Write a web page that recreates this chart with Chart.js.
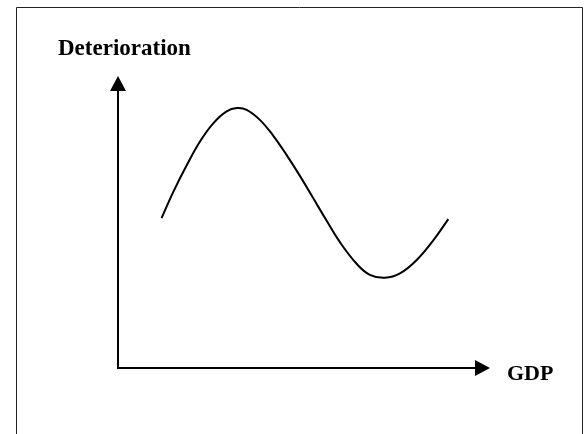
<!DOCTYPE html>
<html>
<head>
<meta charset="utf-8">
<script src="https://cdn.jsdelivr.net/npm/chart.js@4/dist/chart.umd.min.js"></script>
<style>
  html, body { margin: 0; padding: 0; background: #fff; }
  canvas { display: block; }
</style>
</head>
<body>
<canvas id="myChart" width="587" height="434"></canvas>
<script>
// curve (arbitrary units, 0-100 on both axes)
var gdp = [11.7, 14.9, 18.5, 22.0, 25.6, 29.2, 32.0, 34.6, 38.2, 41.7, 45.3, 48.9,
  52.5, 56.1, 59.7, 64.2, 67.7, 71.8, 75.8, 80.3, 84.8, 88.8];
var deterioration = [51.3, 60.4, 69.5, 77.5, 83.8, 87.9, 89.0, 88.4, 84.9, 79.6, 73.0, 65.8,
  58.1, 50.4, 43.0, 35.6, 31.9, 30.9, 32.4, 37.0, 43.8, 51.0];
var xLabel = "GDP";
var yLabel = "Deterioration";

var points = gdp.map(function (x, i) {
  return { x: x, y: deterioration[i] };
});

// draws the frame, the arrow axes and the two labels
var sketch = {
  id: "sketch",
  afterDraw: function (chart) {
    var c = chart.ctx;
    var xs = chart.scales.x, ys = chart.scales.y;
    var ox = xs.getPixelForValue(0), oy = ys.getPixelForValue(0);
    var xEnd = xs.getPixelForValue(100), yEnd = ys.getPixelForValue(100);
    c.save();

    // outer frame (no bottom edge)
    c.strokeStyle = "#222";
    c.lineWidth = 1;
    c.beginPath();
    c.moveTo(16.5, 434);
    c.lineTo(16.5, 7.5);
    c.lineTo(582.5, 7.5);
    c.lineTo(582.5, 434);
    c.stroke();

    // axes
    c.strokeStyle = "#000";
    c.fillStyle = "#000";
    c.lineWidth = 2;
    c.beginPath();
    c.moveTo(ox, yEnd + 14);
    c.lineTo(ox, oy);
    c.lineTo(xEnd - 14, oy);
    c.stroke();

    // arrow heads
    c.beginPath();
    c.moveTo(ox, yEnd);
    c.lineTo(ox - 8, yEnd + 15);
    c.lineTo(ox + 8, yEnd + 15);
    c.closePath();
    c.fill();
    c.beginPath();
    c.moveTo(xEnd, oy);
    c.lineTo(xEnd - 15, oy - 8);
    c.lineTo(xEnd - 15, oy + 8);
    c.closePath();
    c.fill();

    // labels
    c.font = "bold 23px 'Liberation Serif', 'Times New Roman', serif";
    c.textBaseline = "alphabetic";
    c.textAlign = "left";
    c.fillText(yLabel, 58, 55);
    c.font = "bold 22px 'Liberation Serif', 'Times New Roman', serif";
    c.fillText(xLabel, 507, 380);
    c.restore();
  }
};

var ctx = document.getElementById("myChart").getContext("2d");
var chart = new Chart(ctx, {
  type: "line",
  data: {
    datasets: [
      {
        label: "Deterioration",
        data: points,
        borderColor: "#000",
        borderWidth: 2,
        pointRadius: 0,
        fill: false,
        tension: 0.4
      }
    ]
  },
  options: {
    responsive: false,
    animation: false,
    layout: { padding: { left: 118, right: 97, top: 76, bottom: 66 } },
    plugins: { legend: { display: false }, tooltip: { enabled: false } },
    scales: {
      x: { type: "linear", min: 0, max: 100, display: false },
      y: { min: 0, max: 100, display: false }
    }
  },
  plugins: [sketch]
});
</script>
</body>
</html>
